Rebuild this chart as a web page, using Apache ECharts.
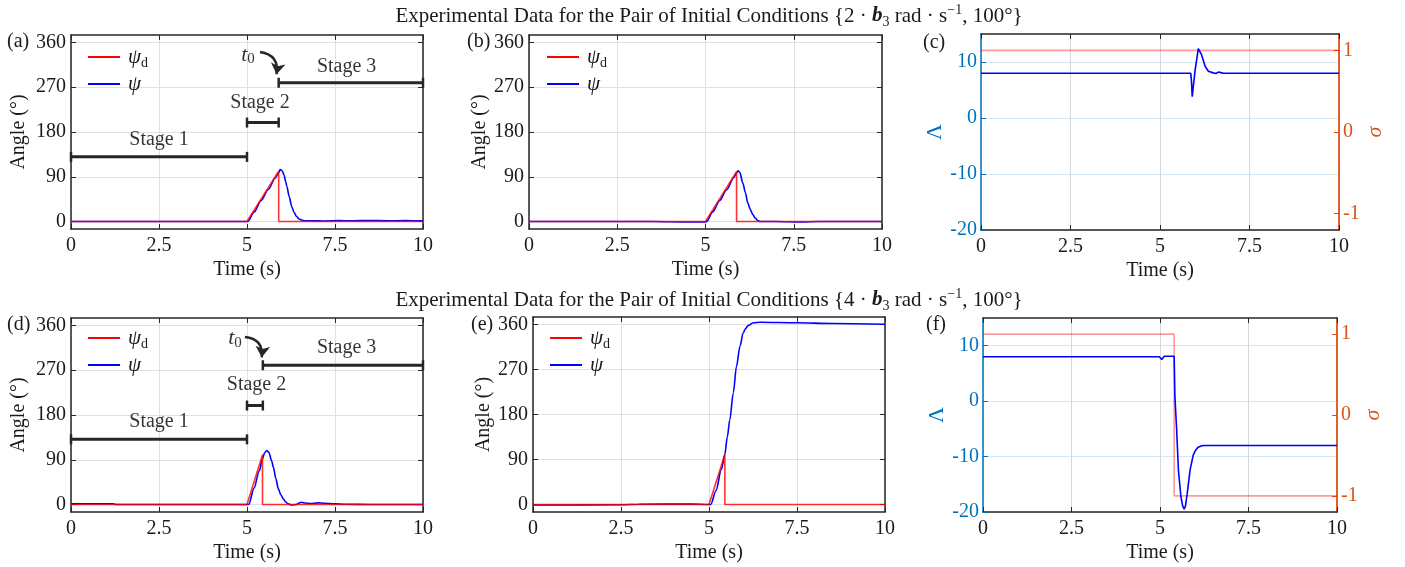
<!DOCTYPE html>
<html><head><meta charset="utf-8">
<script src="https://cdn.jsdelivr.net/npm/echarts@6/dist/echarts.min.js"></script>
<style>html,body{margin:0;padding:0;background:#fff}#c{width:1405px;height:567px}</style>
</head><body><div id="c"></div><script>
const FONT = '"Liberation Serif","DejaVu Serif",serif';

// ---------------- data ----------------
const xTicks = [0, 2.5, 5, 7.5, 10];
const angleTicks = [0, 90, 180, 270, 360];
const lambdaTicks = [-20, -10, 0, 10];
const sigmaTicks = [-1, 0, 1];
const panelLabels = ['(a)', '(b)', '(c)', '(d)', '(e)', '(f)'];
const stageNames = ['Stage 1', 'Stage 2', 'Stage 3'];

// (a)
const tA_d = [0, 5, 5.9, 5.9, 10];
const psiD_A = [0, 0, 101, 0, 0];
const tA = [0, 1, 2, 3, 4, 5, 5.03, 5.2, 5.4, 5.6, 5.8, 5.9, 5.94, 6.0, 6.05, 6.1, 6.13, 6.2, 6.27, 6.34, 6.41, 6.48, 6.55, 6.65, 6.8, 7.2, 7.6, 8.0, 8.5, 9.0, 9.5, 10];
const psiA = [0, 0, 0, 0, 0, 0, 0.5, 19, 42, 64, 87, 98, 104.4, 102, 94, 80, 71, 50, 30, 18, 10, 5, 3, 1.5, 1.5, 1.2, 1.8, 1.5, 2, 1.6, 1.8, 1.5];
const stageA_start = [0, 5, 5.9];
const stageA_end = [5, 5.9, 10];
const stageA_level = [130, 199, 279];
const stageA_labelX = [2.5, 5.37, 7.83];
const stageA_labelY = [164, 238, 311];
const t0A = [5.03, 335];
const arrowA = [[5.37, 341], [5.84, 296]];

// (b)
const tB_d = [0, 5, 5.88, 5.88, 10];
const psiD_B = [0, 0, 100, 0, 0];
const tB = [0, 3.5, 4.5, 5.0, 5.03, 5.2, 5.4, 5.6, 5.8, 5.88, 5.92, 5.97, 6.06, 6.13, 6.2, 6.27, 6.34, 6.41, 6.48, 6.55, 7.0, 7.7, 8.2, 10];
const psiB = [0, 0, -1, -1, 0, 19, 42, 64, 88, 98, 102, 99, 77, 58, 37, 24, 14, 7, 2, 0, 0, -1, 0, 0];

// (c)
const tC = [0, 4.95, 5.0, 5.05, 5.86, 5.88, 5.90, 5.98, 6.07, 6.16, 6.26, 6.35, 6.49, 6.56, 6.63, 6.7, 6.77, 10];
const lambdaC = [8, 8, 7.8, 8, 8, 6.5, 3.8, 8.5, 12.4, 11.3, 9.25, 8.35, 8.06, 7.95, 8.2, 8.1, 8.0, 8.0];
const tC_s = [0, 10];
const sigmaC = [1, 1];

// (d)
const tD_d = [0, 5, 5.44, 5.44, 10];
const psiD_D = [0, 0, 100, 0, 0];
const tD = [0, 1.2, 1.3, 3, 5, 5.05, 5.2, 5.35, 5.44, 5.5, 5.56, 5.62, 5.7, 5.75, 5.82, 5.89, 5.96, 6.03, 6.1, 6.17, 6.27, 6.4, 6.5, 6.55, 6.65, 6.8, 7.02, 7.2, 7.5, 7.8, 8.5, 10];
const psiD = [1.5, 1.5, 0, 0, 0, 0.5, 33, 68, 92, 104, 108.7, 105, 88, 75, 52, 31.6, 20, 11.5, 5, 1.4, -1, 0, 3.5, 4.6, 3, 2, 3.4, 2.5, 1.5, 0.5, 0, 0];
const stageD_start = [0, 5, 5.45];
const stageD_end = [5, 5.45, 10];
const stageD_level = [131, 199, 280];
const stageD_labelX = [2.5, 5.27, 7.83];
const stageD_labelY = [166, 240, 315];
const t0D = [4.66, 334];
const arrowD = [[4.94, 337], [5.42, 296]];

// (e)
const tE_d = [0, 5, 5.45, 5.45, 10];
const psiD_E = [0, 0, 100, 0, 0];
const tE = [0, 2.5, 3, 4.5, 5, 5.05, 5.2, 5.35, 5.45, 5.52, 5.59, 5.69, 5.78, 5.88, 5.97, 6.04, 6.11, 6.26, 6.45, 7.5, 8.5, 10];
const psiE = [-1, -0.5, 0.5, 1, 0, 0, 28, 70, 100, 135, 169, 223, 276, 316.5, 343, 352, 358, 363.6, 364.5, 363.5, 362, 360.5];

// (f)
const tF = [0, 4.98, 5.05, 5.12, 5.2, 5.40, 5.42, 5.47, 5.52, 5.59, 5.64, 5.68, 5.72, 5.77, 5.85, 5.94, 6.01, 6.08, 6.18, 6.27, 10];
const lambdaF = [8, 8, 7.5, 8.1, 8.1, 8.1, 1.0, -5.1, -12.4, -17.2, -18.9, -19.5, -18.9, -16.6, -12.4, -9.7, -8.8, -8.3, -8.05, -8.0, -8.0];
const tF_s = [0, 5.40, 5.40, 10];
const sigmaF = [1, 1, -1, -1];

// ---------------- layout ----------------
const grids = [
  {left: 71, top: 35, width: 352, height: 194},
  {left: 529, top: 35, width: 353, height: 194},
  {left: 981, top: 34, width: 358, height: 196},
  {left: 71, top: 318, width: 352, height: 194},
  {left: 533, top: 317, width: 352, height: 195},
  {left: 983, top: 318, width: 354, height: 194}
];
const DARK = '#262626', BLUEAX = '#0072BD', ORANGE = '#D95319';
const zip = (t, v) => t.map((x, i) => [x, v[i]]);

const xAxis = [], yAxis = [], series = [], legend = [], graphic = [];

grids.forEach((g, gi) => {
  xAxis.push({
    type: 'value', gridIndex: gi, min: 0, max: 10, interval: 2.5, position: 'bottom',
    axisLine: {show: true, onZero: false, lineStyle: {color: DARK, width: 1.5}},
    axisTick: {show: true, inside: true, length: 5, lineStyle: {color: DARK, width: 1}},
    axisLabel: {fontFamily: FONT, fontSize: 20, color: '#1a1a1a', margin: 7},
    splitLine: {show: true, lineStyle: {color: gi === 2 || gi === 5 ? '#d5d9de' : '#e0e0e0', width: 1}},
    name: 'Time (s)', nameLocation: 'middle', nameGap: 31,
    nameTextStyle: {fontFamily: FONT, fontSize: 20, color: '#1a1a1a'}
  });
  xAxis.push({
    type: 'value', gridIndex: gi, min: 0, max: 10, interval: 2.5, position: 'top',
    axisLine: {show: true, onZero: false, lineStyle: {color: DARK, width: 1.5}},
    axisTick: {show: true, inside: true, length: 5, lineStyle: {color: DARK, width: 1}},
    axisLabel: {show: false}, splitLine: {show: false}
  });
  const dual = (gi === 2 || gi === 5);
  if (!dual) {
    yAxis.push({
      type: 'value', gridIndex: gi, min: -15, max: 375, position: 'left',
      axisLine: {show: true, onZero: false, lineStyle: {color: DARK, width: 1.5}},
      axisTick: {show: true, inside: true, length: 5, customValues: angleTicks, lineStyle: {color: DARK}},
      axisLabel: {fontFamily: FONT, fontSize: 20, color: '#1a1a1a', margin: 5, customValues: angleTicks},
      splitLine: {show: true, lineStyle: {color: '#e0e0e0', width: 1}},
      name: 'Angle (°)', nameLocation: 'middle', nameGap: gi === 0 || gi === 3 ? 42 : 39,
      nameTextStyle: {fontFamily: FONT, fontSize: 20, color: '#1a1a1a'}
    });
    yAxis.push({
      type: 'value', gridIndex: gi, min: -15, max: 375, position: 'right',
      axisLine: {show: true, onZero: false, lineStyle: {color: DARK, width: 1.5}},
      axisTick: {show: true, inside: true, length: 5, customValues: angleTicks, lineStyle: {color: DARK}},
      axisLabel: {show: false}, splitLine: {show: false}
    });
  } else {
    yAxis.push({
      type: 'value', gridIndex: gi, min: -20, max: 15, position: 'left',
      axisLine: {show: true, onZero: false, lineStyle: {color: BLUEAX, width: 1.5}},
      axisTick: {show: true, inside: true, length: 5, customValues: lambdaTicks, lineStyle: {color: BLUEAX}},
      axisLabel: {fontFamily: FONT, fontSize: 20, color: BLUEAX, margin: 4, customValues: lambdaTicks},
      splitLine: {show: true, lineStyle: {color: '#d6e7f4', width: 1}},
      name: 'Λ', nameLocation: 'middle', nameGap: 34,
      nameTextStyle: {fontFamily: FONT, fontSize: 22, color: BLUEAX}
    });
    yAxis.push({
      type: 'value', gridIndex: gi, min: -1.2, max: 1.2, position: 'right',
      axisLine: {show: true, onZero: false, lineStyle: {color: ORANGE, width: 1.8}},
      axisTick: {show: true, inside: true, length: 5, customValues: sigmaTicks, lineStyle: {color: ORANGE}},
      axisLabel: {fontFamily: FONT, fontSize: 20, color: ORANGE, margin: 4, customValues: sigmaTicks},
      splitLine: {show: false},
      name: 'σ', nameLocation: 'middle', nameGap: 25, nameRotate: 90,
      nameTextStyle: {fontFamily: FONT, fontSize: 22, fontStyle: 'italic', color: ORANGE}
    });
  }
});

function line(gi, name, t, v, color, opts) {
  return Object.assign({
    type: 'line', name, xAxisIndex: 2 * gi, yAxisIndex: 2 * gi, data: zip(t, v),
    symbol: 'none', showSymbol: false, animation: false, silent: true,
    lineStyle: {color, width: 1.6}, itemStyle: {color}
  }, opts || {});
}

// angle panels
const anglePanels = [
  [0, tA_d, psiD_A, tA, psiA],
  [1, tB_d, psiD_B, tB, psiB],
  [3, tD_d, psiD_D, tD, psiD],
  [4, tE_d, psiD_E, tE, psiE]
];
anglePanels.forEach(([gi, td, vd, t, v]) => {
  series.push(line(gi, 'ψ', t, v, '#0000FF', {z: 2, smooth: 0.3, smoothMonotone: 'x'}));
  series.push(line(gi, 'ψd', td, vd, '#FF0000', {z: 3, lineStyle: {color: '#FF0000', width: 1.6, opacity: 0.8}}));
});

// dual panels
series.push(line(2, 'σ', tC_s, sigmaC, '#FF0000', {yAxisIndex: 5, z: 2, lineStyle: {color: '#FF0000', width: 1.6, opacity: 0.4}}));
series.push(line(2, 'Λ', tC, lambdaC, '#0000FF', {z: 3}));
series.push(line(5, 'σ', tF_s, sigmaF, '#FF0000', {yAxisIndex: 11, z: 2, lineStyle: {color: '#FF0000', width: 1.6, opacity: 0.4}}));
series.push(line(5, 'Λ', tF, lambdaF, '#0000FF', {z: 3}));

// stage annotations
function stages(gi, s, e, lvl, lx, ly, t0, arrow) {
  s.forEach((x, i) => {
    series.push({
      type: 'line', name: 'stage', xAxisIndex: 2 * gi, yAxisIndex: 2 * gi, z: 5,
      data: [[x, lvl[i]], [e[i], lvl[i]]], symbol: 'rect', symbolSize: [2.5, 10], showSymbol: true,
      lineStyle: {color: DARK, width: 3}, itemStyle: {color: DARK}, animation: false, silent: true
    });
  });
  series.push({
    type: 'scatter', name: 'labels', xAxisIndex: 2 * gi, yAxisIndex: 2 * gi, z: 6,
    symbolSize: 1, itemStyle: {color: 'rgba(0,0,0,0)'}, animation: false, silent: true,
    data: stageNames.map((n, i) => ({name: n, value: [lx[i], ly[i]]})).concat([{name: 't0', value: t0}]),
    label: {
      show: true, position: 'inside', color: '#000', fontFamily: FONT, fontSize: 20,
      formatter: p => p.name === 't0' ? '{i|t}{s|0}' : p.name,
      rich: {
        i: {fontFamily: FONT, fontSize: 22, fontStyle: 'italic', color: '#000', lineHeight: 24},
        s: {fontFamily: FONT, fontSize: 15, color: '#000', lineHeight: 15, verticalAlign: 'bottom'}
      }
    }
  });
  series.push({
    type: 'lines', coordinateSystem: 'cartesian2d', xAxisIndex: 2 * gi, yAxisIndex: 2 * gi, z: 6,
    silent: true, animation: false, symbol: ['none', 'arrow'], symbolSize: 11,
    lineStyle: {color: DARK, width: 2.5, opacity: 1, curveness: 0.5},
    data: [{coords: arrow}]
  });
}
stages(0, stageA_start, stageA_end, stageA_level, stageA_labelX, stageA_labelY, t0A, arrowA);
stages(3, stageD_start, stageD_end, stageD_level, stageD_labelX, stageD_labelY, t0D, arrowD);

// legends
const legendPos = [[88, 44], [547, 44], [88, 325], [550, 325]];
legendPos.forEach(([l, t]) => {
  legend.push({
    left: l, top: t, orient: 'vertical', itemGap: 1, itemWidth: 32, itemHeight: 2, icon: 'rect',
    selectedMode: false, data: ['ψd', 'ψ'], padding: 0,
    formatter: n => n === 'ψd' ? '{i|ψ}{s|d}' : '{i|ψ}',
    textStyle: {
      fontFamily: FONT, fontSize: 21, color: DARK, lineHeight: 26, padding: [0, 0, 0, 3],
      rich: {
        i: {fontFamily: FONT, fontSize: 21, fontStyle: 'italic', color: '#1a1a1a', lineHeight: 26},
        s: {fontFamily: FONT, fontSize: 14, color: '#1a1a1a', lineHeight: 14, verticalAlign: 'bottom'}
      }
    }
  });
});

// titles and panel labels
const titleRich = {
  b: {fontFamily: FONT, fontSize: 21, fontWeight: 'bold', fontStyle: 'italic', fill: '#1a1a1a', lineHeight: 26},
  sub: {fontFamily: FONT, fontSize: 14, fill: '#1a1a1a', lineHeight: 14, verticalAlign: 'bottom'},
  sup: {fontFamily: FONT, fontSize: 14, fill: '#1a1a1a', lineHeight: 14, verticalAlign: 'top'}
};
const titles = [
  ['2', 709, 16],
  ['4', 709, 300]
];
titles.forEach(([k, x, y]) => {
  graphic.push({
    type: 'text', x, y, silent: true,
    style: {
      text: 'Experimental Data for the Pair of Initial Conditions {' + k + ' · {b|b}{sub|3} rad · s{sup|−1}, 100°}',
      fontFamily: FONT, fontSize: 21, fill: '#1a1a1a', lineHeight: 26,
      align: 'center', verticalAlign: 'middle', rich: titleRich
    }
  });
});
const panelLabelPos = [[7, 42], [467, 42], [923, 43], [7, 325], [471, 325], [926, 325]];
panelLabels.forEach((txt, i) => {
  graphic.push({
    type: 'text', x: panelLabelPos[i][0], y: panelLabelPos[i][1], silent: true,
    style: {text: txt, fontFamily: FONT, fontSize: 20, fill: '#1a1a1a', align: 'left', verticalAlign: 'middle'}
  });
});

const chart = echarts.init(document.getElementById('c'), null, {renderer: 'canvas'});
chart.setOption({
  animation: false, backgroundColor: '#fff',
  grid: grids.map(g => Object.assign({containLabel: false}, g)),
  xAxis, yAxis, series, legend, graphic
});
</script></body></html>
